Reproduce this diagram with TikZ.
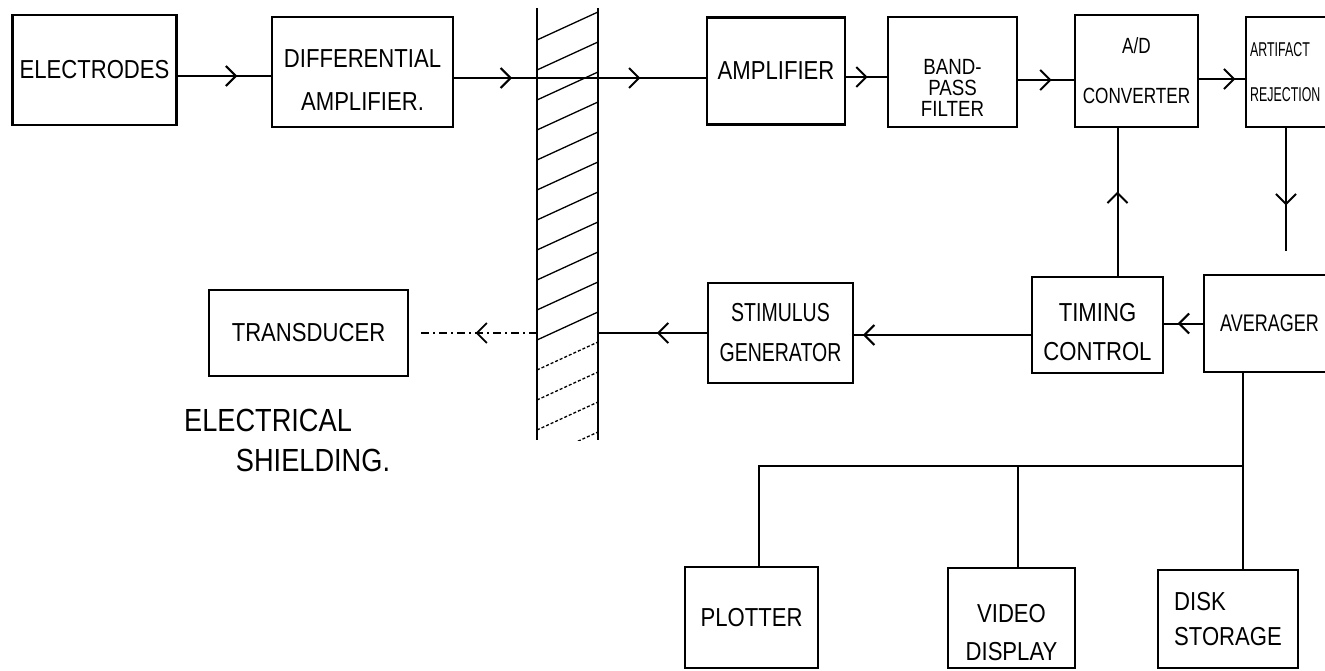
\documentclass[tikz,border=0pt]{standalone}
\usepackage{fontspec}
\setmainfont{Liberation Sans}[FakeStretch=0.85]
\usetikzlibrary{arrows.meta, positioning, decorations.markings}

\begin{document}
\begin{tikzpicture}[
  x=1pt, y=-1pt,
  every node/.style={font=\fontsize{26}{42}\selectfont},
  blk/.style={draw, line width=2.2pt, align=center, inner sep=3pt},
  wire/.style={line width=2pt},
  midarr/.style={wire, postaction={decorate},
    decoration={markings, mark=at position #1 with
      {\arrow{Straight Barb[length=10pt, width=20pt, line width=2pt]}}}},
  midarr/.default=0.5,
  radio/.style={line width=1.4pt, dash pattern=on 8pt off 4pt on 2pt off 4pt},
  hatch/.style={line width=1.3pt},
]
  \fill[white] (0,0) rectangle (1325,671);
  \useasboundingbox (0,0) rectangle (1325,671);
  \clip (0,0) rectangle (1325,671);

  % top row
  \node[blk, minimum width=164pt, minimum height=110pt] (elec) at (94.5,70) {ELECTRODES};
  \node[blk, minimum width=181pt, minimum height=110pt] (diffamp) at (362.5,72) {};
  \node[align=center, font=\fontsize{26}{43}\selectfont] (diffamptxt) at (362.5,80)
    {DIFFERENTIAL\\AMPLIFIER.};
  \node[blk, minimum width=138pt, minimum height=107pt] (amp) at (776,71) {AMPLIFIER};
  \node[blk, minimum width=129pt, minimum height=110pt] (bpf) at (952.5,72) {};
  \node[align=center, font=\fontsize{22}{21}\selectfont] (bpftxt) at (952.5,88)
    {BAND-\\PASS\\FILTER};
  \node[blk, minimum width=123pt, minimum height=112pt,
        font=\addfontfeatures{FakeStretch=0.78}\fontsize{22}{50}\selectfont]
    (ad) at (1136.5,71) {A/D\\CONVERTER};
  \node[blk, anchor=west, text width=140pt, align=left, inner sep=4pt,
        minimum height=110pt, font=\addfontfeatures{FakeStretch=0.62}\fontsize{20}{45}\selectfont]
    (art) at (1245,72) {ARTIFACT\\REJECTION};

  % electrical shielding
  \node[minimum width=61pt, minimum height=432pt, inner sep=0pt] (shield) at (567.5,224) {};
  \draw[wire] (shield.north west) -- (shield.south west)
              (shield.north east) -- (shield.south east);
  \begin{scope}
    \clip (shield.south west) rectangle (shield.north east);
    \foreach \y in {40,70,...,340}
      \draw[hatch] (537,\y) -- (598,\y-28);
    \foreach \y in {370,400,430,460}
      \draw[hatch, densely dashed] (537,\y) -- (598,\y-28);
  \end{scope}

  % middle row
  \node[blk, minimum width=131pt, minimum height=96pt] (timing) at (1097.5,325) {};
  \node[align=center, font=\fontsize{26}{39}\selectfont] (timingtxt) at (1097.5,332)
    {TIMING\\CONTROL};
  \node[blk, anchor=west, text width=140pt, align=left, inner xsep=16pt,
        minimum height=97pt, font=\addfontfeatures{FakeStretch=0.75}\fontsize{24}{30}\selectfont]
    (avg) at (1203,323.5) {AVERAGER};
  \node[blk, minimum width=145pt, minimum height=100pt,
        font=\addfontfeatures{FakeStretch=0.75}\fontsize{26}{40}\selectfont]
    (stim) at (780.5,333) {STIMULUS\\GENERATOR};
  \node[blk, minimum width=199pt, minimum height=86pt] (trans) at (308.5,333) {TRANSDUCER};
  \node[font=\fontsize{32}{34}\selectfont] (lblelec) at (268,420) {ELECTRICAL};
  \node[font=\fontsize{32}{34}\selectfont] (lblshield) at (313,460) {SHIELDING.};

  % bottom row
  \node[blk, minimum width=133pt, minimum height=101pt] (plot) at (751.5,617.5) {PLOTTER};
  \node[blk, minimum width=127pt, minimum height=100pt] (video) at (1011.5,618) {};
  \node[align=center, font=\fontsize{26}{38}\selectfont] (videotxt) at (1011.5,633)
    {VIDEO\\DISPLAY};
  \node[blk, minimum width=140pt, minimum height=98pt, align=left,
        font=\fontsize{26}{35}\selectfont] (disk) at (1228,619) {DISK\\STORAGE};
  \coordinate (bus) at (1243,466);

  % signal path
  \draw[midarr=0.64] ([yshift=-6pt]elec.east) -- ([yshift=-6pt]elec.east -| diffamp.west);
  \draw[wire, postaction={decorate}, decoration={markings,
      mark=at position 0.23 with {\arrow{Straight Barb[length=10pt, width=20pt, line width=2pt]}},
      mark=at position 0.74 with {\arrow{Straight Barb[length=10pt, width=20pt, line width=2pt]}}}]
    ([yshift=-6pt]diffamp.east) -- ([yshift=-6pt]diffamp.east -| amp.west);
  \draw[midarr=0.53] ([yshift=-6pt]amp.east) -- ([yshift=-6pt]amp.east -| bpf.west);
  \draw[midarr=0.6] ([yshift=-8pt]bpf.east) -- ([yshift=-8pt]bpf.east -| ad.west);
  \draw[midarr=0.79] ([yshift=-8pt]ad.east) -- ([yshift=-8pt]ad.east -| art.west);
  \draw[midarr=0.53, shorten >=23pt] ([xshift=41pt]art.south west)
    -- ([xshift=41pt]art.south west |- avg.north);
  \draw[midarr=0.65] (avg.west) -- (avg.west -| timing.east);
  \draw[midarr=0.57] ([xshift=20pt]timing.north) -- ([xshift=20pt]timing.north |- ad.south);
  \draw[midarr=0.95] ([yshift=-10pt]timing.west) -- ([yshift=-10pt]timing.west -| stim.east);
  \draw[midarr=0.46] (stim.west) -- (stim.west -| shield.east);
  \draw[radio, postaction={decorate}, decoration={markings,
      mark=at position 0.48 with {\arrow{Straight Barb[length=10pt, width=20pt, line width=1.8pt]}}},
      shorten >=11pt]
    (trans.east -| shield.west) -- (trans.east);

  % outputs
  \draw[wire] (avg.south -| bus) -- ([xshift=15pt]disk.north);
  \draw[wire] (bus) -| ([xshift=7.5pt]plot.north);
  \draw[wire] ([xshift=6.5pt]video.north |- bus) -- ([xshift=6.5pt]video.north);
\end{tikzpicture}
\end{document}
